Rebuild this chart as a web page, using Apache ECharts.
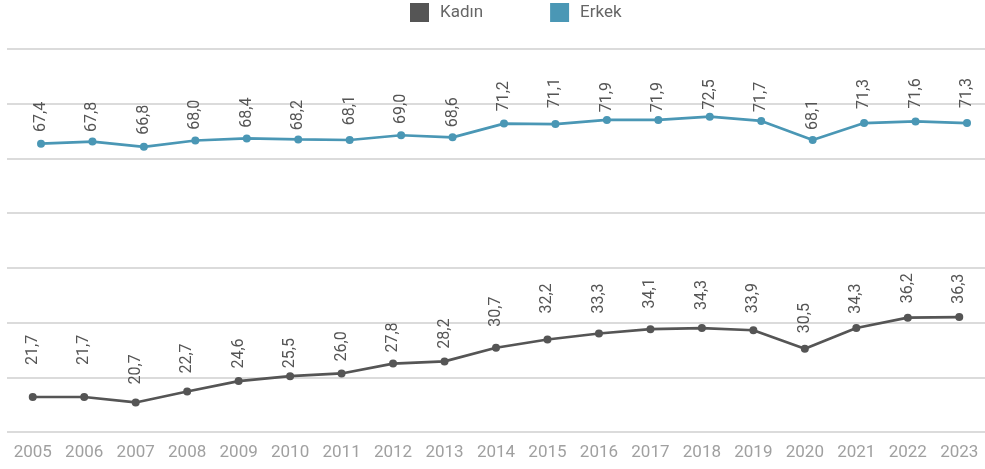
<!DOCTYPE html>
<html>
<head>
<meta charset="utf-8">
<script src="https://cdn.jsdelivr.net/npm/echarts@6/dist/echarts.min.js"></script>
<style>
  html, body { margin: 0; padding: 0; background: #fff; }
  #chart { width: 985px; height: 469px; }
</style>
</head>
<body>
<div id="chart"></div>
<script>
const years = ['2005', '2006', '2007', '2008', '2009', '2010', '2011', '2012', '2013', '2014',
  '2015', '2016', '2017', '2018', '2019', '2020', '2021', '2022', '2023'];

const kadin = [21.7, 21.7, 20.7, 22.7, 24.6, 25.5, 26.0, 27.8, 28.2, 30.7,
  32.2, 33.3, 34.1, 34.3, 33.9, 30.5, 34.3, 36.2, 36.3];

const erkek = [67.4, 67.8, 66.8, 68.0, 68.4, 68.2, 68.1, 69.0, 68.6, 71.2,
  71.1, 71.9, 71.9, 72.5, 71.7, 68.1, 71.3, 71.6, 71.3];

// label gaps above each point (style only)
const kadinGap = [32, 32, 18, 18, 12.6, 8, 12, 11, 12.7, 21, 26, 20, 20.7, 18, 17, 15.7, 14.3, 14.3, 13.3];
const erkekGap = [11.7, 9.7, 12, 10.7, 10.7, 9.3, 14.7, 11.3, 10, 12.3, 16, 7.7, 7.7, 7.3, 9, 10, 14, 13, 15];

const GRAY = '#555555';
const BLUE = '#4a97b5';
const fmt = v => v.toFixed(1).replace('.', ',');

function points(values, gaps) {
  return values.map((v, i) => ({
    value: v,
    label: { distance: gaps[i] - 4 }
  }));
}

const labelStyle = {
  show: true,
  position: 'top',
  rotate: 90,
  align: 'left',
  verticalAlign: 'middle',
  fontFamily: 'Roboto',
  fontSize: 16,
  color: '#555',
  formatter: p => fmt(p.value)
};

const chart = echarts.init(document.getElementById('chart'));
chart.setOption({
  animation: false,
  legend: {
    data: ['Kadın', 'Erkek'],
    left: 410,
    top: 3,
    padding: 0,
    icon: 'rect',
    itemWidth: 19,
    itemHeight: 19,
    itemGap: 67,
    textStyle: { fontFamily: 'Roboto', fontSize: 17, color: '#666', padding: [0, 0, 0, 6] }
  },
  grid: [
    { left: 7, right: 0, top: 49, bottom: 37 },
    { left: 41, right: 18, top: 49, bottom: 37 }
  ],
  xAxis: [
    {
      type: 'category',
      gridIndex: 0,
      data: years,
      axisLine: { show: false },
      axisTick: { show: false },
      axisLabel: { fontFamily: 'Roboto', fontSize: 17, color: '#a0a0a0', margin: 12 }
    },
    {
      type: 'category',
      gridIndex: 1,
      data: years,
      boundaryGap: false,
      show: false
    }
  ],
  yAxis: [
    {
      type: 'value',
      gridIndex: 0,
      min: 15, max: 85, interval: 10,
      axisLabel: { show: false },
      axisLine: { show: false },
      axisTick: { show: false },
      splitLine: { lineStyle: { color: '#cfcfcf', width: 1.5 } }
    },
    { type: 'value', gridIndex: 0, min: 15.3, max: 85.3, show: false, splitLine: { show: false } },
    { type: 'value', gridIndex: 1, min: 12.9, max: 85.3, show: false, splitLine: { show: false } }
  ],
  series: [
    {
      name: 'Kadın',
      type: 'line',
      xAxisIndex: 0,
      yAxisIndex: 1,
      data: points(kadin, kadinGap),
      color: GRAY,
      symbol: 'circle',
      symbolSize: 8,
      lineStyle: { width: 2.7, color: GRAY },
      itemStyle: { color: GRAY },
      label: labelStyle
    },
    {
      name: 'Erkek',
      type: 'line',
      xAxisIndex: 1,
      yAxisIndex: 2,
      data: points(erkek, erkekGap),
      color: BLUE,
      symbol: 'circle',
      symbolSize: 8,
      lineStyle: { width: 2.7, color: BLUE },
      itemStyle: { color: BLUE },
      label: labelStyle
    }
  ]
});
</script>
</body>
</html>
